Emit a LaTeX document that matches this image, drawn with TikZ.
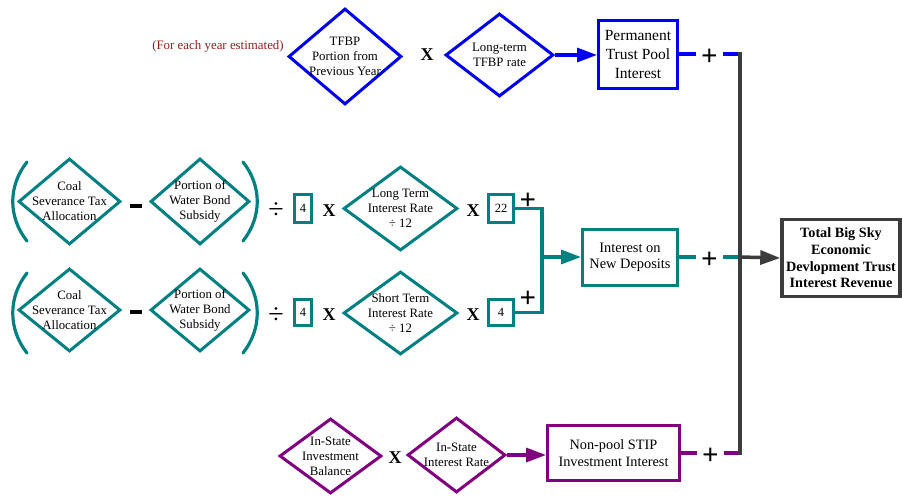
\documentclass[tikz,border=0pt]{standalone}
\usepackage{fontspec}
\setmainfont{Liberation Serif}
\usetikzlibrary{shapes.geometric,arrows.meta}
\definecolor{cblue}{RGB}{0,0,240}
\definecolor{cteal}{RGB}{0,128,128}
\definecolor{cpurp}{RGB}{128,0,128}
\definecolor{cgray}{RGB}{60,60,60}
\definecolor{cred}{RGB}{150,30,30}
\begin{document}
\begin{tikzpicture}[x=1pt,y=-1pt,
  dia/.style={diamond, draw, line width=3pt, inner sep=0pt},
  dtext/.style={align=center, font=\fontsize{12.8}{15}\selectfont, inner sep=0pt},
  box/.style={draw, line width=3pt, inner sep=0pt, align=center},
  nbox/.style={draw, line width=3pt, inner sep=0pt, font=\fontsize{12.5}{14}\selectfont},
  op/.style={font=\fontsize{18}{18}\selectfont\bfseries, inner sep=0pt},
  divs/.style={font=\fontsize{28}{28}\selectfont, inner sep=0pt},
  minusbar/.style={fill=black, minimum width=12pt, minimum height=4.5pt, inner sep=0pt},
  pl/.style={font=\fontsize{29}{29}\selectfont\bfseries, inner sep=0pt},
  plw/.style={fill=white, text=black, font=\fontsize{29}{29}\selectfont\bfseries, inner sep=0pt, minimum width=27pt, minimum height=16pt, yshift=-3pt},
  arr/.style={-{Triangle[length=20pt,width=14pt]}},
  lw/.style={line width=3.2pt},
  paren/.style={line width=3.2pt, line cap=round, cteal},
  ]
\useasboundingbox (0,0) rectangle (902,498);

% ---------- top row (blue) ----------
\node[font=\fontsize{12.9}{15}\selectfont, text=cred, inner sep=0pt] (note) at (218,46) {(For each year estimated)};
\node[dia, draw=cblue, minimum width=113pt, minimum height=96pt,
  label={[dtext]center:{TFBP\\Portion from\\Previous Year}}] (tfbp) at (345,56.5) {};
\node[op] (x1) at (427,55) {X};
\node[dia, draw=cblue, minimum width=108pt, minimum height=83pt,
  label={[dtext]center:{Long-term\\TFBP rate}}] (ltr) at (499.5,55) {};
\node[box, draw=cblue, minimum width=79pt, minimum height=68pt,
  font=\fontsize{15.5}{19}\selectfont] (perm) at (638,54) {Permanent\\Trust Pool\\Interest};
\draw[cblue, lw, arr] (ltr.east) -- (ltr.east -| perm.west);
\coordinate (jt) at (740,54);
\draw[cblue, lw] (perm.east) -- node[plw, pos=0.5] (p0) {+} (jt);

% ---------- middle row 1 (teal) ----------
\draw[paren] (27,162) .. controls (8,186) and (8,217) .. (27,241);
\draw[paren] (243,162) .. controls (262,186) and (262,217) .. (243,241);
\node[dia, draw=cteal, minimum width=102pt, minimum height=86pt,
  label={[dtext]center:{Coal\\Severance Tax\\Allocation}}] (coal1) at (69.5,201.5) {};
\node[minusbar] (m1) at (135.5,206) {};
\node[dia, draw=cteal, minimum width=99pt, minimum height=86pt,
  label={[dtext]center:{Portion of\\Water Bond\\Subsidy}}] (port1) at (200,201.5) {};
\node[divs] (d1) at (276,211) {÷};
\node[nbox, draw=cteal, minimum width=17pt, minimum height=28pt] (f1) at (303,208.5) {4};
\node[op] (x2) at (329,211) {X};
\node[dia, draw=cteal, minimum width=114pt, minimum height=84pt,
  label={[dtext]center:{Long Term\\Interest Rate\\÷ 12}}] (lt) at (400.5,208.5) {};
\node[op] (x3) at (473,211) {X};
\node[nbox, draw=cteal, minimum width=25pt, minimum height=28pt] (b22) at (501,208.5) {22};
\node[pl] (p1) at (528,201) {+};

% ---------- middle row 2 (teal) ----------
\draw[paren] (27,273) .. controls (8,297) and (8,329) .. (27,353);
\draw[paren] (243,273) .. controls (262,297) and (262,329) .. (243,353);
\node[dia, draw=cteal, minimum width=102pt, minimum height=83pt,
  label={[dtext]center:{Coal\\Severance Tax\\Allocation}}] (coal2) at (69.5,310) {};
\node[minusbar] (m2) at (135.5,312) {};
\node[dia, draw=cteal, minimum width=99pt, minimum height=83pt,
  label={[dtext]center:{Portion of\\Water Bond\\Subsidy}}] (port2) at (200,310) {};
\node[divs] (d2) at (276,316) {÷};
\node[nbox, draw=cteal, minimum width=17pt, minimum height=26pt] (f2) at (303,312.5) {4};
\node[op] (x4) at (329,315) {X};
\node[dia, draw=cteal, minimum width=114pt, minimum height=83pt,
  label={[dtext]center:{Short Term\\Interest Rate\\÷ 12}}] (st) at (400.5,313) {};
\node[op] (x5) at (473,315) {X};
\node[nbox, draw=cteal, minimum width=25pt, minimum height=26pt] (b4) at (501,312.5) {4};
\node[pl] (p2) at (528,299) {+};

\node[box, draw=cteal, minimum width=95pt, minimum height=56pt,
  font=\fontsize{14.4}{16}\selectfont] (int) at (630,257) {Interest on\\New Deposits};
\coordinate (mj) at (542,257);
\draw[cteal, lw] (b22.east) -| (mj);
\draw[cteal, lw] (b4.east) -| (mj);
\draw[cteal, lw, arr] (mj) -- (int.west);
\coordinate (jm) at (740,257);
\draw[cteal, lw] (int.east) -- node[plw, pos=0.5] (p3) {+} (jm);

% ---------- bottom row (purple) ----------
\node[dia, draw=cpurp, minimum width=102pt, minimum height=75pt,
  label={[dtext]center:{In-State\\Investment\\Balance}}] (isib) at (330.5,456) {};
\node[op] (x6) at (395,458) {X};
\node[dia, draw=cpurp, minimum width=98pt, minimum height=75pt,
  label={[dtext]center:{In-State\\Interest Rate}}] (isir) at (456.5,455) {};
\node[box, draw=cpurp, minimum width=132pt, minimum height=55pt,
  font=\fontsize{14.3}{17}\selectfont] (np) at (613.5,453) {Non-pool STIP\\Investment Interest};
\draw[cpurp, lw, arr] (isir.east) -- (isir.east -| np.west);
\coordinate (jb) at (740,453);
\draw[cpurp, lw] (np.east) -- node[plw, pos=0.5] (p4) {+} (jb);

% ---------- total ----------
\node[box, draw=cgray, line width=3.6pt, minimum width=118pt, minimum height=77pt,
  font=\fontsize{14.2}{16.7}\selectfont\bfseries] (total) at (841,258)
  {Total Big Sky\\Economic\\Devlopment Trust\\Interest Revenue};
\draw[cgray, line width=3.5pt, shorten <=-1.6pt, shorten >=-1.6pt] (jt) -- (jb);
\draw[cgray, line width=3.5pt, arr] (jm) -- (total.west);
\end{tikzpicture}
\end{document}
